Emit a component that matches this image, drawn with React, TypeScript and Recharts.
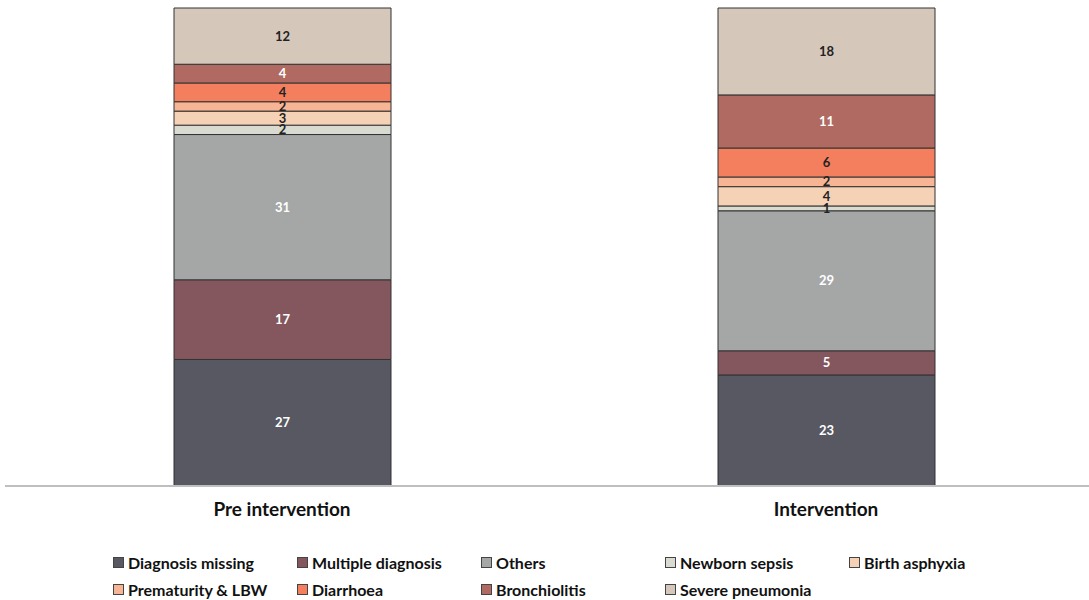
import React from 'react';
import { BarChart, Bar, XAxis, YAxis, LabelList, Legend } from 'recharts';

const categories = ['Pre intervention', 'Intervention'];
const diagnosisMissing = [27, 23];
const multipleDiagnosis = [17, 5];
const others = [31, 29];
const newbornSepsis = [2, 1];
const birthAsphyxia = [3, 4];
const prematurityLBW = [2, 2];
const diarrhoea = [4, 6];
const bronchiolitis = [4, 11];
const severePneumonia = [12, 18];

const series = [
  { key: 'dm', name: 'Diagnosis missing', values: diagnosisMissing, color: '#575862', label: '#ffffff' },
  { key: 'md', name: 'Multiple diagnosis', values: multipleDiagnosis, color: '#84575F', label: '#ffffff' },
  { key: 'ot', name: 'Others', values: others, color: '#A5A7A7', label: '#ffffff' },
  { key: 'ns', name: 'Newborn sepsis', values: newbornSepsis, color: '#D9DBD0', label: '#222222' },
  { key: 'ba', name: 'Birth asphyxia', values: birthAsphyxia, color: '#F5D1B5', label: '#222222' },
  { key: 'pl', name: 'Prematurity & LBW', values: prematurityLBW, color: '#F8B595', label: '#222222' },
  { key: 'di', name: 'Diarrhoea', values: diarrhoea, color: '#F47F5E', label: '#222222' },
  { key: 'br', name: 'Bronchiolitis', values: bronchiolitis, color: '#B06A61', label: '#ffffff' },
  { key: 'sp', name: 'Severe pneumonia', values: severePneumonia, color: '#D5C8BB', label: '#222222' },
];

const data = categories.map((c, i) => {
  const row: Record<string, string | number> = { category: c };
  series.forEach((s) => {
    row[s.key] = s.values[i];
  });
  return row;
});

const FONT = 'Lato, "Open Sans", sans-serif';

const LegendContent = () => (
  <div style={{ display: 'flex', flexWrap: 'wrap', width: 1000, paddingLeft: 113, fontFamily: FONT }}>
    {series.map((s) => (
      <div
        key={s.key}
        style={{ width: 184, height: 27, display: 'flex', alignItems: 'center', fontSize: 16, fontWeight: 700, color: '#111', whiteSpace: 'nowrap' }}
      >
        <span
          style={{
            display: 'inline-block',
            width: 9,
            height: 9,
            background: s.color,
            border: '1px solid #444',
            marginRight: 4,
          }}
        />
        {s.name}
      </div>
    ))}
  </div>
);

export default function App() {
  return (
    <div style={{ position: 'absolute', left: 0, top: 0, width: 1089, height: 600, overflow: 'hidden', background: '#fff' }}>
      <BarChart
        width={1100}
        height={600}
        data={data}
        stackOffset="expand"
        barSize={217}
        margin={{ top: 8, right: 2, left: 5, bottom: 10 }}
      >
        <XAxis
          dataKey="category"
          axisLine={{ stroke: '#BFBFBF', strokeWidth: 2 }}
          tickLine={false}
          padding={{ left: 5, right: 0 }}
          height={40}
          tickMargin={11}
          tick={{ fontSize: 19, fontWeight: 700, fill: '#111', fontFamily: FONT }}
        />
        <YAxis hide domain={[0, 1]} />
        <Legend verticalAlign="bottom" height={64} content={<LegendContent />} wrapperStyle={{ top: 549, left: 0 }} />
        {series.map((s) => (
          <Bar key={s.key} dataKey={s.key} name={s.name} stackId="a" fill={s.color} stroke="#333" strokeWidth={1} isAnimationActive={false}>
            <LabelList dataKey={s.key} position="center" fill={s.label} fontSize={13} fontWeight={700} fontFamily={FONT} />
          </Bar>
        ))}
      </BarChart>
    </div>
  );
}
